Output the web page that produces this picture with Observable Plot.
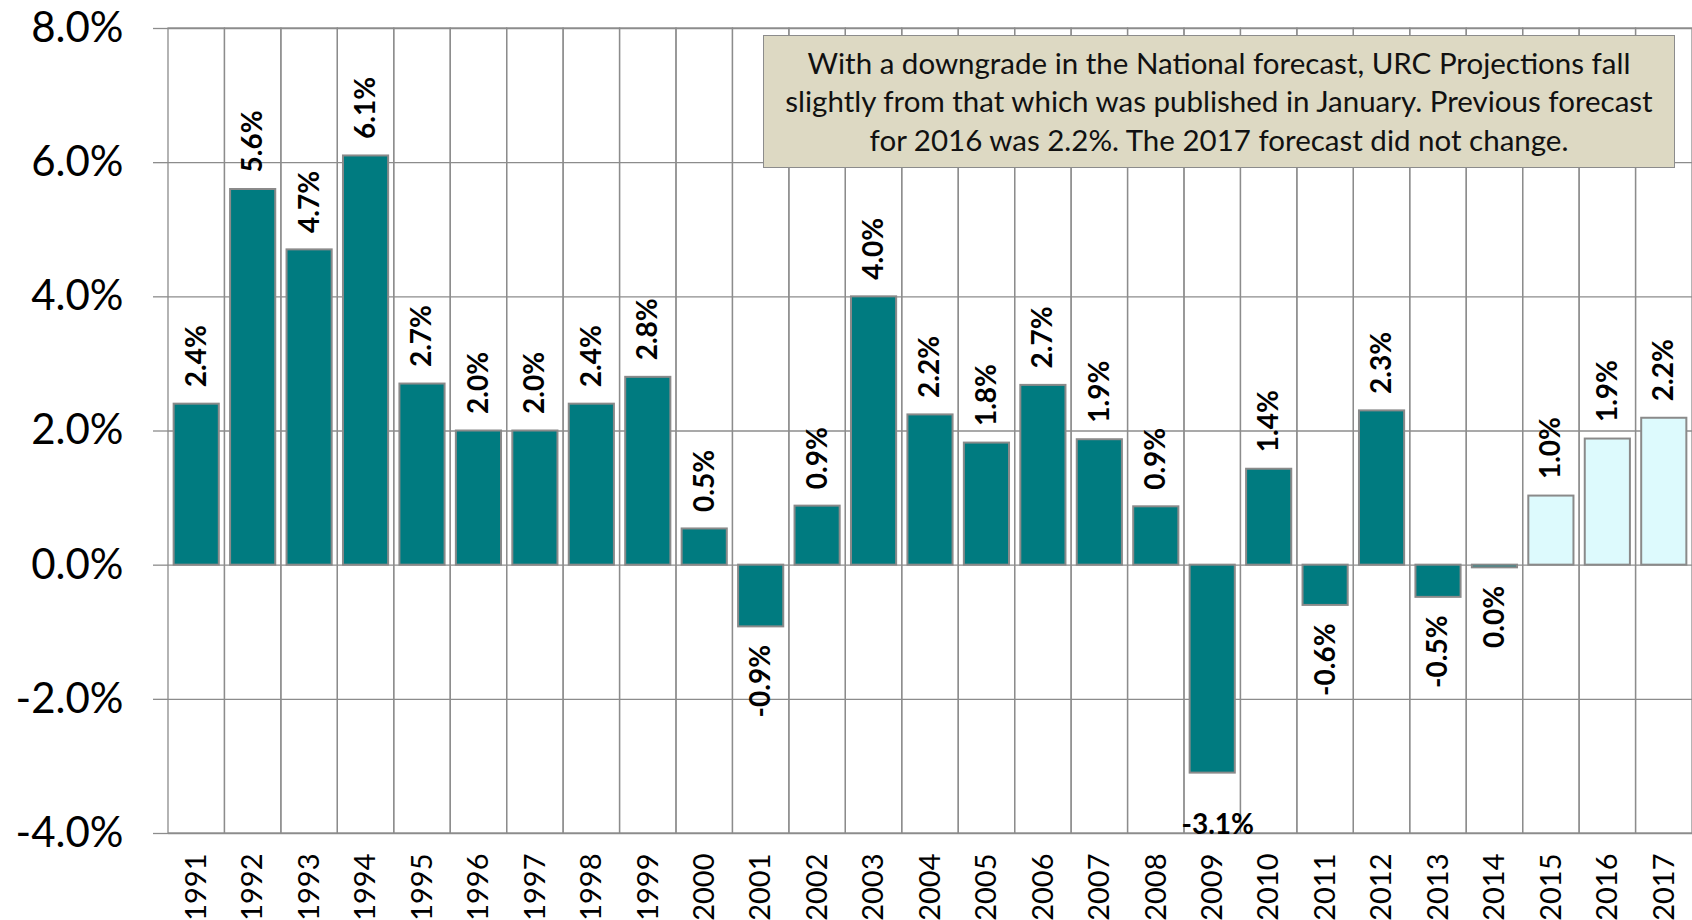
<!DOCTYPE html>
<html><head><meta charset="utf-8">
<script src="https://cdn.jsdelivr.net/npm/d3@7"></script>
<script src="https://cdn.jsdelivr.net/npm/@observablehq/plot@0.6"></script>
<style>
body{margin:0;background:#fff;}
#wrap{position:relative;width:1692px;height:920px;overflow:hidden;background:#fff;}
#wrap svg{position:absolute;left:0;top:0;}
#note{position:absolute;left:763px;top:35px;width:912px;height:133px;box-sizing:border-box;background:#DDD9C3;border:1.5px solid #8c8c8c;font-family:Lato,"Liberation Sans",sans-serif;font-size:29.5px;line-height:38.5px;text-align:center;display:flex;align-items:center;justify-content:center;color:#111;padding:0 6px;white-space:nowrap;}
</style></head><body>
<div id="wrap"><div id="note"></div></div>
<script>
const years = [1991,1992,1993,1994,1995,1996,1997,1998,1999,2000,2001,2002,2003,2004,2005,2006,2007,2008,2009,2010,2011,2012,2013,2014,2015,2016,2017];
const growth = [2.4,5.6,4.7,6.1,2.7,2.0,2.0,2.4,2.8,0.54,-0.92,0.88,4.0,2.24,1.82,2.68,1.87,0.87,-3.1,1.43,-0.6,2.3,-0.48,-0.04,1.03,1.88,2.19];
const forecastYears = [2015,2016,2017];
const baseLabelYears = [2009];
const yTicks = [-4,-2,0,2,4,6,8];
const noteLines = [
  "With a downgrade in the National forecast, URC Projections fall",
  "slightly from that which was published in January. Previous forecast",
  "for 2016 was 2.2%. The 2017 forecast did not change."
];

document.getElementById("note").innerHTML = noteLines.join("<br>");

const data = years.map((y,i)=>({year:String(y), value:growth[i], forecast:forecastYears.includes(y), base:baseLabelYears.includes(y)}));
const fmt = v => (Math.round(v*10)/10 || 0).toFixed(1) + "%";
const W=1692, H=920, mL=168, mR=0, mT=28, mB=87;
const bw=(W-mL-mR)/years.length;
const inset = bw*0.1;
const grid = "#8c8c8c";
const font = "Lato, 'Liberation Sans', sans-serif";

const chart = Plot.plot({
  width:W, height:H, marginLeft:mL, marginRight:mR, marginTop:mT, marginBottom:mB,
  style:{fontFamily:font, background:"transparent", color:"#000"},
  x:{type:"band", domain:years.map(String), padding:0, round:false, label:null},
  y:{domain:[d3.min(yTicks), d3.max(yTicks)], label:null},
  marks:[
    Plot.barY(years.map(String), {x:d=>d, y1:d3.min(yTicks), y2:d3.max(yTicks), fill:"none", stroke:grid, strokeWidth:1.3}),
    Plot.gridY(yTicks, {stroke:grid, strokeOpacity:1, strokeWidth:1.3}),
    Plot.axisY(yTicks, {tickSize:15, tickPadding:30, fontSize:42, stroke:grid, strokeWidth:1.3, fill:"#000", tickFormat:d=>d.toFixed(1)+"%", label:null}),
    Plot.axisX({tickSize:0, tickPadding:20, tickRotate:-90, fontSize:29, fill:"#000", label:null}),
    Plot.barY(data.filter(d=>!d.forecast), {x:"year", y:"value", fill:"#007B80", stroke:"#8a8a8a", strokeWidth:2, insetLeft:inset, insetRight:inset}),
    Plot.barY(data.filter(d=>d.forecast), {x:"year", y:"value", fill:"#DDFAFD", stroke:"#8a8a8a", strokeWidth:2, insetLeft:inset, insetRight:inset}),
    Plot.text(data.filter(d=>!d.base && d.value>0), {x:"year", y:"value", text:d=>fmt(d.value), rotate:-90, textAnchor:"start", dy:-17, fontSize:28, fontWeight:"bold", fill:"#000"}),
    Plot.text(data.filter(d=>!d.base && d.value<=0), {x:"year", y:"value", text:d=>fmt(d.value), rotate:-90, textAnchor:"end", dy:18, fontSize:28, fontWeight:"bold", fill:"#000"}),
    Plot.text(data.filter(d=>d.base), {x:"year", text:d=>fmt(d.value), frameAnchor:"bottom", lineAnchor:"bottom", dx:5, fontSize:28, fontWeight:"bold", fill:"#000"})
  ]
});
document.getElementById("wrap").insertBefore(chart, document.getElementById("note"));
</script>
</body></html>
